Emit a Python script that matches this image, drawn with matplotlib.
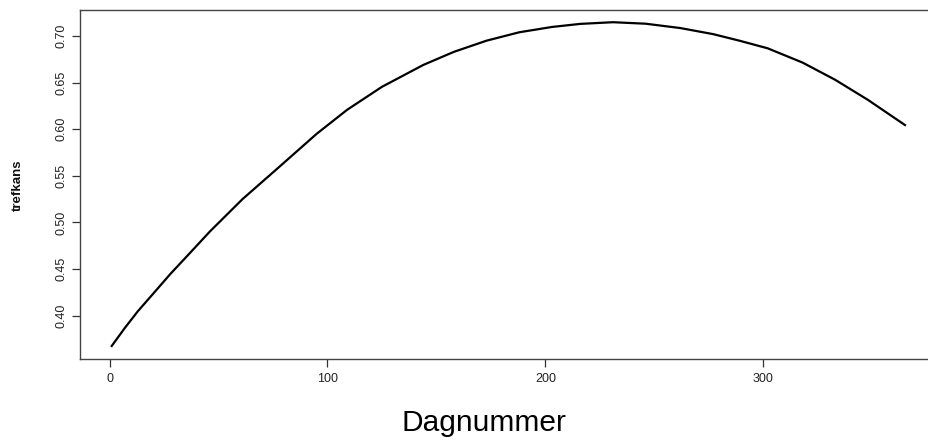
import numpy as np
import matplotlib
matplotlib.use('Agg')
import matplotlib.pyplot as plt

plt.rcParams['font.family'] = ['Liberation Sans', 'DejaVu Sans']

# values
dagnummer = [1, 7, 13, 21, 28, 36, 46, 61, 77, 95, 109, 125, 144, 158, 173,
             188, 203, 216, 231, 246, 262, 277, 289, 302, 318, 333, 348, 365]
trefkans = [0.3675, 0.3868, 0.4048, 0.4262, 0.4450, 0.4650, 0.4902, 0.5250,
            0.5578, 0.5950, 0.6208, 0.6455, 0.6690, 0.6830, 0.6950, 0.7040,
            0.7097, 0.7130, 0.7148, 0.7132, 0.7085, 0.7020, 0.6950, 0.6868,
            0.6715, 0.6530, 0.6315, 0.6045]
xticks = [0, 100, 200, 300]
yticks = [0.40, 0.45, 0.50, 0.55, 0.60, 0.65, 0.70]

W, H = 929, 441
fig = plt.figure(figsize=(W/100, H/100), dpi=100)
ax = fig.add_axes([80/W, (H-359.3)/H, 856.7/W, 349.3/H])

ax.plot(dagnummer, trefkans, color='black', lw=1.6, solid_joinstyle='round')

ax.set_xlim(-13.56, 379.56)
ax.set_ylim(0.3532, 0.7279)
ax.set_xticks(xticks)
ax.set_xticklabels([str(t) for t in xticks])
ax.set_yticks(yticks)
ax.set_yticklabels(['%.2f' % t for t in yticks], rotation=90, va='center')
ax.tick_params(axis='both', length=6, width=0.9, color='#333333',
               labelsize=9, labelcolor='#222222', pad=4)
ax.tick_params(axis='y', pad=3)
for s in ax.spines.values():
    s.set_color('#444444')
    s.set_linewidth(1.0)

fig.text(18/W, 1 - 185/H, 'trefkans', rotation=90, ha='center', va='center',
         fontsize=9.5, fontweight='bold', color='#111111')
fig.text(484/W, 1 - 423/H, 'Dagnummer', ha='center', va='center',
         fontsize=21.5, color='black')

fig.savefig('out.png', dpi=100)
